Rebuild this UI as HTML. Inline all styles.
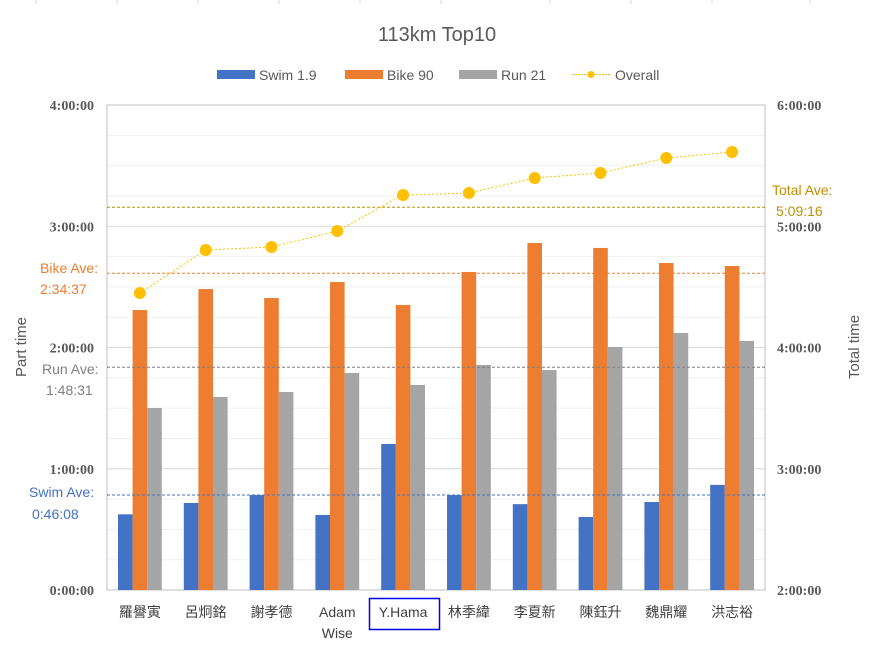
<!DOCTYPE html>
<html><head><meta charset="utf-8"><style>
body{margin:0;background:#fff;}
svg text{font-family:"Liberation Sans","Noto Sans CJK TC",sans-serif;}
</style></head><body>
<svg id="c" width="875" height="643" xmlns="http://www.w3.org/2000/svg"></svg>
<script>
const names=["羅譽寅","呂炯銘","謝孝德","Adam|Wise","Y.Hama","林季緯","李夏新","陳鈺升","魏鼎耀","洪志裕"];
const swim=[0.624,0.718,0.783,0.619,1.204,0.783,0.708,0.602,0.726,0.867];
const bike=[2.309,2.482,2.408,2.540,2.351,2.623,2.862,2.821,2.697,2.672];
const run=[1.501,1.592,1.633,1.790,1.691,1.856,1.814,2.004,2.120,2.054];
const overall=[4.449,4.804,4.829,4.961,5.258,5.274,5.398,5.439,5.563,5.612];
const leftTicks=["0:00:00","1:00:00","2:00:00","3:00:00","4:00:00"];
const rightTicks=["2:00:00","3:00:00","4:00:00","5:00:00","6:00:00"];
const aveTotal=5.157, aveBike=2.612, aveRun=1.837, aveSwim=0.784;

const NS="http://www.w3.org/2000/svg",svg=document.getElementById('c');
function mk(t,a,p){const e=document.createElementNS(NS,t);for(const k in a)e.setAttribute(k,a[k]);(p||svg).appendChild(e);return e;}
const L=107,R=765,T=105,B=590;
const yl=v=>B-(B-T)*v/4, yr=v=>B-(B-T)*(v-2)/4;
const cw=(R-L)/names.length, cx=i=>L+cw*(i+0.5), bw=14.6;

[36,117,198,279,360,441,550,631,712,810].forEach(x=>{const e=mk('line',{x1:x,y1:0,x2:x,y2:4,stroke:'#d9d9d9'});

});

for(let q=0;q<=16;q++){const y=yl(q/4);const e=mk('line',{x1:L,y1:y,x2:R,y2:y,stroke:q%4==0?'#d9d9d9':'#f0f0f0'});

}
let e=mk('rect',{x:L,y:T,width:R-L,height:B-T,fill:'none',stroke:'#bfbfbf'});


leftTicks.forEach((t,i)=>{const e=mk('text',{x:94,y:yl(i)+5,'text-anchor':'end','font-size':14,'font-weight':'bold',fill:'#595959',style:'font-family:"Liberation Serif",serif'});e.textContent=t;
});
rightTicks.forEach((t,i)=>{const e=mk('text',{x:777,y:yr(i+2)+5,'font-size':14,'font-weight':'bold',fill:'#595959',style:'font-family:"Liberation Serif",serif'});e.textContent=t;
});

const series=[[swim,'#4472c4','swim'],[bike,'#ed7d31','bike'],[run,'#a5a5a5','run']];
names.forEach((n,i)=>{series.forEach((s,k)=>{const v=s[0][i];const b=mk('rect',{x:cx(i)-1.5*bw+k*bw,y:yl(v),width:bw,height:B-yl(v),fill:s[1]});
});
const parts=n.split('|');parts.forEach((p,j)=>{const t=mk('text',{x:cx(i),y:617+j*21,'text-anchor':'middle','font-size':14,fill:'#404040'});t.textContent=p;
});});
e=mk('rect',{x:369.5,y:598.5,width:70,height:31,fill:'none',stroke:'#0000ee','stroke-width':1.5});


[[yr(aveTotal),'#bf8f00'],[yl(aveBike),'#ed7d31'],[yl(aveRun),'#7f7f7f'],[yl(aveSwim),'#4472c4']].forEach(a=>{const l=mk('line',{x1:L,y1:a[0],x2:R,y2:a[0],stroke:a[1],'stroke-dasharray':'3 2','stroke-width':1});
});
function lab(x,y,t,c){const e=mk('text',{x:x,y:y,'font-size':14,fill:c});e.textContent=t;}
lab(40,273,'Bike Ave:','#ed7d31');lab(40,294,'2:34:37','#ed7d31');
lab(42,374,'Run Ave:','#7f7f7f');lab(46,395,'1:48:31','#7f7f7f');
lab(29,497,'Swim Ave:','#4472c4');lab(32,519,'0:46:08','#4472c4');
lab(772,195,'Total Ave:','#bf8f00');lab(776,216,'5:09:16','#bf8f00');

const pl=mk('polyline',{points:overall.map((v,i)=>cx(i)+','+yr(v)).join(' '),fill:'none',stroke:'#ffc000','stroke-dasharray':'2 2','stroke-width':1});

overall.forEach((v,i)=>{const c=mk('circle',{cx:cx(i),cy:yr(v),r:6,fill:'#ffc000'});
});

e=mk('text',{x:437,y:41,'text-anchor':'middle','font-size':20,fill:'#595959'});e.textContent='113km Top10';

e=mk('text',{x:0,y:0,'text-anchor':'middle','font-size':15,fill:'#595959',transform:'translate(26,347) rotate(-90)'});e.textContent='Part time';

e=mk('text',{x:0,y:0,'text-anchor':'middle','font-size':15,fill:'#595959',transform:'translate(859,347) rotate(-90)'});e.textContent='Total time';


[[217,'#4472c4','Swim 1.9'],[345,'#ed7d31','Bike 90'],[459,'#a5a5a5','Run 21']].forEach(g=>{
const r=mk('rect',{x:g[0],y:70,width:38,height:9,fill:g[1]});
const t=mk('text',{x:g[0]+42,y:80,'font-size':14,fill:'#595959'});t.textContent=g[2];});
e=mk('line',{x1:572,y1:74.5,x2:610,y2:74.5,stroke:'#ffc000','stroke-dasharray':'2 1'});
e=mk('circle',{cx:591,cy:74.5,r:3.5,fill:'#ffc000'});
e=mk('text',{x:615,y:80,'font-size':14,fill:'#595959'});e.textContent='Overall';
</script>
</body></html>
